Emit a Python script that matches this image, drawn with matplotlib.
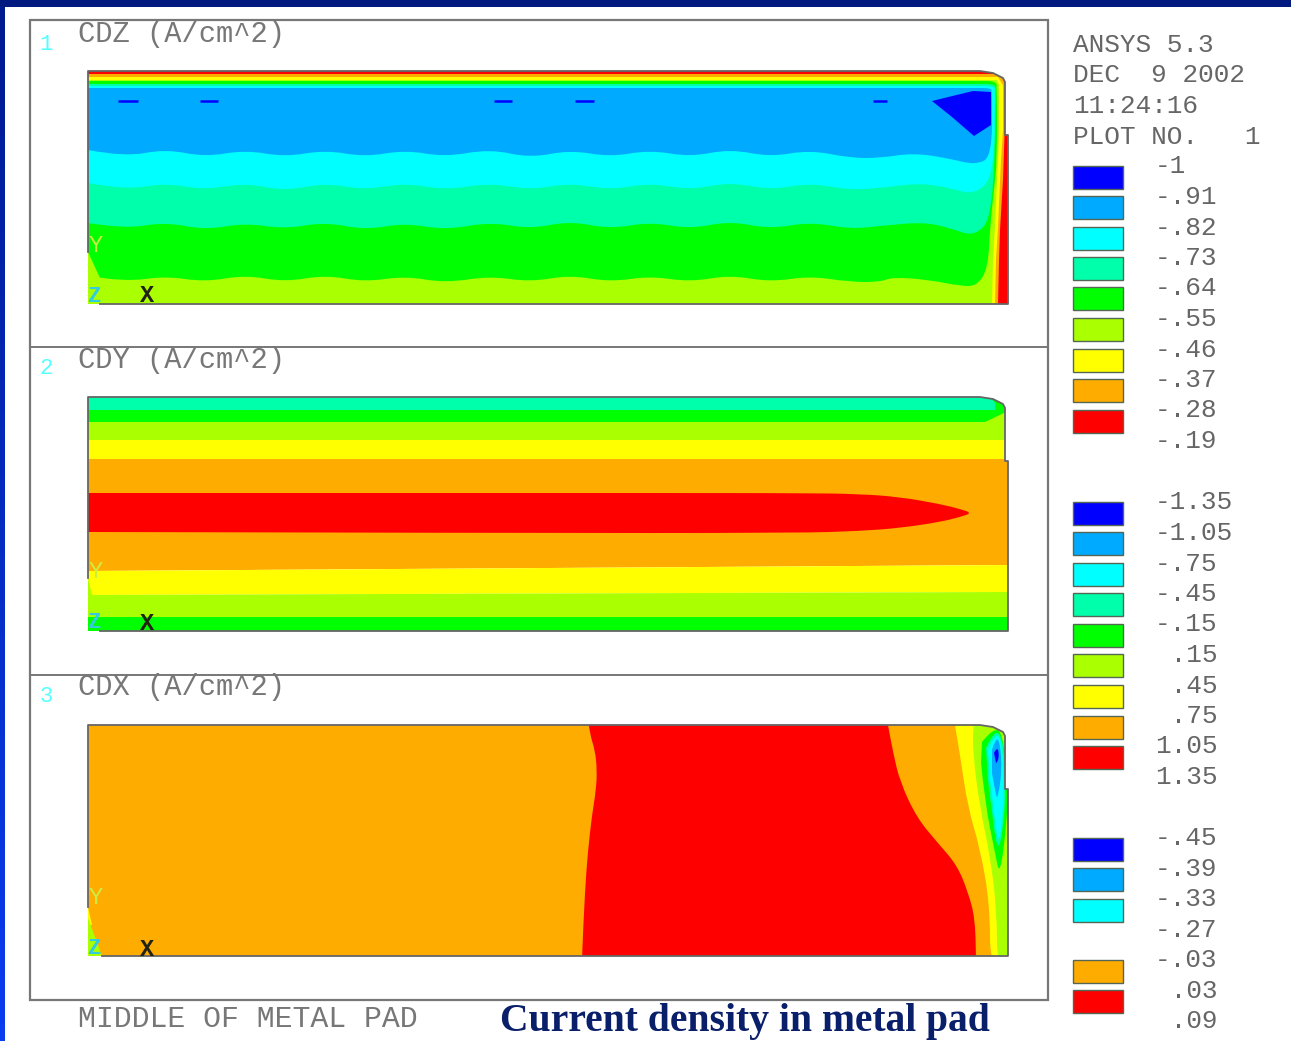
import numpy as np
import matplotlib
matplotlib.use("Agg")
import matplotlib.pyplot as plt
from matplotlib.patches import Rectangle, Polygon, PathPatch
from matplotlib.path import Path

# Colores de contorno de ANSYS
azul = "#0000FF"
celeste = "#00AAFF"
cian = "#00FFFF"
turquesa = "#00FFAA"
verde = "#00FF00"
lima = "#AAFF00"
amarillo = "#FFFF00"
naranja = "#FFAC00"
rojo = "#FF0000"

W, H = 1291, 1041

# Panel 1: CDZ, fronteras
x_onda = [88, 125, 165, 205, 245, 285, 325, 365, 405, 445, 490, 530, 570, 610, 650, 690, 730, 770, 810, 850]
y_celeste = [150, 157, 149, 157, 150, 157, 150, 157, 150, 157, 149, 158, 150, 157, 150, 157, 149, 157, 150, 158]
y_cian = [183, 190, 183, 190, 183, 191, 183, 190, 183, 190, 183, 190, 183, 190, 183, 190, 182, 190, 183, 190]
y_turquesa = [223, 229, 222, 230, 223, 229, 222, 230, 223, 230, 222, 229, 221, 229, 222, 229, 221, 229, 222, 229]
y_verde = [276, 282, 276, 282, 275, 282, 275, 282, 276, 283, 276, 282, 275, 282, 276, 282, 275, 282, 276, 282]

der_celeste = ([880, 913, 947, 975, 992, 992, 991, 975], [158, 153, 158, 165, 157, 92, 88, 88])
der_cian = ([880, 920, 950, 975, 994, 995, 994, 975], [188, 183, 188, 195, 175, 92, 86, 86])
der_turquesa = ([880, 923, 950, 975, 993, 996, 995, 975], [226, 222, 228, 237, 215, 90, 84, 84])
der_verde = ([880, 893, 930, 960, 977, 988, 990, 994, 997, 997, 996, 975], [282, 277, 280, 286, 286, 268, 227, 190, 160, 88, 81, 81])

cdz_naranja = ([88, 998, 999, 1000, 1003, 1006, 1004, 88], [304, 304, 260, 230, 180, 90, 74, 74])
cdz_amarillo = ([88, 995, 996, 998, 1001, 1003, 1003, 998, 88], [304, 304, 260, 227, 160, 130, 85, 77, 77])
cdz_lima = ([88, 992, 993, 995, 998, 999, 999, 997, 88], [304, 304, 260, 227, 160, 130, 85, 80, 80])
cdz_azul = ([932, 973, 991, 991, 974, 952], [101, 91, 92, 125, 136, 117])
guion_ini = [118, 200, 494, 575, 873]
guion_fin = [138, 218, 512, 594, 887]
cuna_cdz = ([88, 88, 91, 95, 100], [252, 304, 304, 278, 278])

# Panel 2: CDY
y_bandas_cdy = [397, 410, 422, 440, 459, 571, 595, 617, 631]
colores_cdy = [turquesa, verde, lima, amarillo, naranja, amarillo, lima, verde]
y_bajo_der = [397, 410, 422, 440, 459, 565, 592, 617, 631]
rojo_cdy_x = [88, 500, 800, 860, 900, 940, 960, 972, 960, 940, 900, 860, 800, 500, 88]
rojo_cdy_y = [493, 493, 493, 494, 497, 504, 509, 513, 517, 522, 528, 531, 533, 533, 532]
esquina_verde = ([990, 1006, 1006, 995, 995], [397, 397, 410, 410, 403])
esquina_lima = ([985, 1006, 1006], [422, 412, 422])
cuna_cdy = ([88, 88, 92], [578, 595, 595])

# Panel 3: CDX
rojo_cdx_x = [587, 590, 595, 597, 596, 592, 588, 585, 582, 582, 976, 976, 975, 968, 957, 937, 917, 900, 893, 888, 886]
rojo_cdx_y = [715, 735, 750, 770, 790, 815, 850, 890, 956, 970, 970, 956, 918, 892, 865, 842, 818, 782, 752, 725, 715]
am_cdx_x = [953, 955, 960, 968, 980, 990, 990, 1020, 1020]
am_cdx_y = [715, 725, 755, 808, 848, 905, 970, 970, 715]
lima_cdx_x = [975, 973, 973, 980, 990, 997, 997, 1020, 1020]
lima_cdx_y = [715, 725, 755, 808, 855, 912, 970, 970, 715]
verde_cdx_x = [982, 993, 1003, 1008, 1007, 1000, 995, 985, 981]
verde_cdx_y = [742, 728, 733, 787, 820, 877, 853, 803, 763]
turq_cdx_x = [986, 994, 1003, 1006, 1003, 998, 993, 988]
turq_cdx_y = [748, 730, 737, 787, 830, 852, 823, 780]
cian_cdx_x = [988, 995, 1002, 1004, 1002, 998, 995, 990]
cian_cdx_y = [750, 733, 740, 787, 827, 843, 820, 780]
cel_cdx_x = [992, 996, 1000, 1002, 998, 996, 992]
cel_cdx_y = [750, 737, 743, 770, 797, 797, 773]
az_cdx_x = [994, 997, 999, 998, 996]
az_cdx_y = [753, 747, 753, 762, 763]
cuna_am_cdx = ([88, 92, 88], [907, 925, 925])
cuna_lima_cdx = ([88, 98, 102, 88], [918, 945, 957, 957])

# Leyenda
colores_ley = [azul, celeste, cian, turquesa, verde, lima, amarillo, naranja, rojo]
ley1_etq = ["-1", "-.91", "-.82", "-.73", "-.64", "-.55", "-.46", "-.37", "-.28", "-.19"]
ley1_y = [166, 197, 228, 258, 288, 319, 350, 380, 410, 441]
ley2_etq = ["-1.35", "-1.05", "-.75", "-.45", "-.15", " .15", " .45", " .75", "1.05", "1.35"]
ley2_y = [502, 533, 564, 594, 624, 655, 686, 716, 746, 777]
ley3_etq = ["-.45", "-.39", "-.33", "-.27", "-.03", " .03", " .09"]
ley3_y = [838, 869, 899, 930, 960, 991, 1021]
ley1_caja = [177, 207, 238, 268, 298, 329, 360, 390, 421]
ley2_caja = [513, 543, 574, 604, 635, 665, 696, 727, 757]
ley3_caja = [849, 879, 910, 971, 1001]
ley3_col = [azul, celeste, cian, naranja, rojo]
cabecera = ["ANSYS 5.3", "DEC  9 2002", "11:24:16", "PLOT NO.   1"]
cabecera_y = [45, 75, 106, 137]
titulos = ["CDZ (A/cm^2)", "CDY (A/cm^2)", "CDX (A/cm^2)"]
titulos_y = [34, 360, 687]
numeros_y = [44, 369, 696]
ejes_y = [296, 623, 949]
y_letra = [245, 572, 898]

fig = plt.figure(figsize=(W / 100, H / 100), dpi=100, facecolor="white")

# Fondo con marco, textos y leyenda, en pixeles de la imagen
fondo = fig.add_axes([0, 0, 1, 1])
fondo.axis("off")
fondo.imshow(np.linspace(0, 1, 64).reshape(-1, 1), extent=(0, 5, H, 7), aspect="auto",
             cmap=matplotlib.colors.LinearSegmentedColormap.from_list("borde", ["#001A90", "#0A3CF0"]))
fondo.set_xlim(0, W)
fondo.set_ylim(H, 0)
fondo.add_patch(Rectangle((0, 0), W, 7, color="#001A80", lw=0))
fondo.add_patch(Rectangle((30, 20), 1018, 980, fc="white", ec="#777777", lw=1.6))
fondo.plot([30, 1048], [347, 347], color="#777777", lw=1.4)
fondo.plot([30, 1048], [675, 675], color="#777777", lw=1.4)

mono = "Liberation Mono"
for t, y in zip(titulos, titulos_y):
    fondo.text(78, y, t, family=mono, fontsize=20.7, color="#777777", va="center")
for i, y in enumerate(numeros_y):
    fondo.text(46, y, str(i + 1), family=mono, fontsize=16, color="#55FFFF", va="center", ha="center")
for t, y in zip(cabecera, cabecera_y):
    fondo.text(1073, y, t, family=mono, fontsize=18.8, color="#666666", va="center")
for etq, ys in [(ley1_etq, ley1_y), (ley2_etq, ley2_y), (ley3_etq, ley3_y)]:
    for t, y in zip(etq, ys):
        fondo.text(1155, y, t, family=mono, fontsize=18.8, color="#666666", va="center")
for ys, cols in [(ley1_caja, colores_ley), (ley2_caja, colores_ley), (ley3_caja, ley3_col)]:
    for y, c in zip(ys, cols):
        fondo.add_patch(Rectangle((1073, y - 11.5), 50, 23, fc=c, ec="#556655", lw=1))
fondo.text(78, 1019, "MIDDLE OF METAL PAD", family=mono, fontsize=21.5, color="#777777", va="center")
fondo.text(500, 1021, "Current density in metal pad", family="Liberation Serif", fontweight="bold",
           fontsize=28.5, color="#0A1F6A", va="center")


def contorno(arriba, abajo):
    # contorno de la placa con la esquina recortada
    x = [88, 980, 993, 1003, 1005, 1005, 1008, 1008]
    y = [arriba, arriba, arriba + 2, arriba + 7, arriba + 11, arriba + 64, arriba + 64, abajo]
    return x, y


def eje_placa(arriba, abajo):
    ax = fig.add_axes([88 / W, 1 - abajo / H, (1008 - 88) / W, (abajo - arriba) / H])
    ax.set_xlim(88, 1008)
    ax.set_ylim(abajo, arriba)
    ax.axis("off")
    ax.patch.set_alpha(0)
    x, y = contorno(arriba, abajo)
    borde = Polygon(np.column_stack([x + [88], y + [abajo]]), transform=ax.transData, fc="none", ec="none")
    ax.add_patch(borde)
    return ax, borde


def banda(ax, borde, x, y, color, suave=False):
    if not suave:
        p = ax.fill(x, y, color=color, lw=0)[0]
        p.set_clip_path(borde)
        return
    # curvas cuadraticas entre los puntos leidos para que la frontera quede redonda
    pts = np.column_stack([x, y]).astype(float)
    verts = [pts[0]]
    codes = [Path.MOVETO]
    for i in range(1, len(pts) - 1):
        fin = pts[-1] if i == len(pts) - 2 else (pts[i] + pts[i + 1]) / 2
        verts += [pts[i], fin]
        codes += [Path.CURVE3, Path.CURVE3]
    verts.append(pts[0])
    codes.append(Path.CLOSEPOLY)
    p = PathPatch(Path(verts, codes), fc=color, ec="none", lw=0)
    ax.add_patch(p)
    p.set_clip_path(borde)


def linea_borde(ax, x_fin_inf, y_corte, arriba, abajo):
    x, y = contorno(arriba, abajo)
    ax.plot([88] + x + [x_fin_inf], [y_corte] + y + [abajo], color="#666666", lw=1.3, clip_on=False)


def triada(ax, i):
    ax.text(96, y_letra[i], "Y", family=mono, fontsize=17, color="#CCEE44", ha="center", va="center")
    ax.text(95, ejes_y[i], "Z", family=mono, fontsize=16, color="#33CCDD", fontweight="bold", ha="center", va="center")
    ax.text(147, ejes_y[i], "X", family=mono, fontsize=17, color="#222211", fontweight="bold", ha="center", va="center")


# Panel 1
ax1, b1 = eje_placa(71, 304)
banda(ax1, b1, [88, 1008, 1008, 88], [71, 71, 304, 304], rojo)
banda(ax1, b1, cdz_naranja[0], cdz_naranja[1], naranja)
banda(ax1, b1, cdz_amarillo[0], cdz_amarillo[1], amarillo)
banda(ax1, b1, cdz_lima[0], cdz_lima[1], lima)
for y_b, der, col, techo in [(y_verde, der_verde, verde, 81), (y_turquesa, der_turquesa, turquesa, 84),
                             (y_cian, der_cian, cian, 86), (y_celeste, der_celeste, celeste, 88)]:
    x = x_onda + der[0] + [88]
    y = y_b + der[1] + [techo]
    banda(ax1, b1, x, y, col, suave=True)
banda(ax1, b1, cuna_cdz[0], cuna_cdz[1], lima)
banda(ax1, b1, cdz_azul[0], cdz_azul[1], azul)
ax1.hlines([100.5] * len(guion_ini), guion_ini, guion_fin, color=azul, lw=1.8)
linea_borde(ax1, 100, 252, 71, 304)
triada(ax1, 0)

# Panel 2
ax2, b2 = eje_placa(397, 631)
for i, c in enumerate(colores_cdy):
    x = [88, 1008, 1008, 88]
    y = [y_bandas_cdy[i], y_bajo_der[i], y_bajo_der[i + 1], y_bandas_cdy[i + 1]]
    banda(ax2, b2, x, y, c)
banda(ax2, b2, esquina_verde[0], esquina_verde[1], verde)
banda(ax2, b2, esquina_lima[0], esquina_lima[1], lima)
banda(ax2, b2, rojo_cdy_x, rojo_cdy_y, rojo, suave=True)
banda(ax2, b2, cuna_cdy[0], cuna_cdy[1], lima)
linea_borde(ax2, 100, 578, 397, 631)
triada(ax2, 1)

# Panel 3
ax3, b3 = eje_placa(725, 956)
banda(ax3, b3, [88, 1008, 1008, 88], [725, 725, 956, 956], naranja)
banda(ax3, b3, rojo_cdx_x, rojo_cdx_y, rojo, suave=True)
banda(ax3, b3, am_cdx_x, am_cdx_y, amarillo, suave=True)
banda(ax3, b3, lima_cdx_x, lima_cdx_y, lima, suave=True)
banda(ax3, b3, verde_cdx_x, verde_cdx_y, verde, suave=True)
banda(ax3, b3, turq_cdx_x, turq_cdx_y, turquesa, suave=True)
banda(ax3, b3, cian_cdx_x, cian_cdx_y, cian, suave=True)
banda(ax3, b3, cel_cdx_x, cel_cdx_y, celeste, suave=True)
banda(ax3, b3, az_cdx_x, az_cdx_y, azul, suave=True)
banda(ax3, b3, cuna_am_cdx[0], cuna_am_cdx[1], amarillo)
banda(ax3, b3, cuna_lima_cdx[0], cuna_lima_cdx[1], lima)
linea_borde(ax3, 102, 907, 725, 956)
triada(ax3, 2)

fig.savefig("out.png", dpi=100)
